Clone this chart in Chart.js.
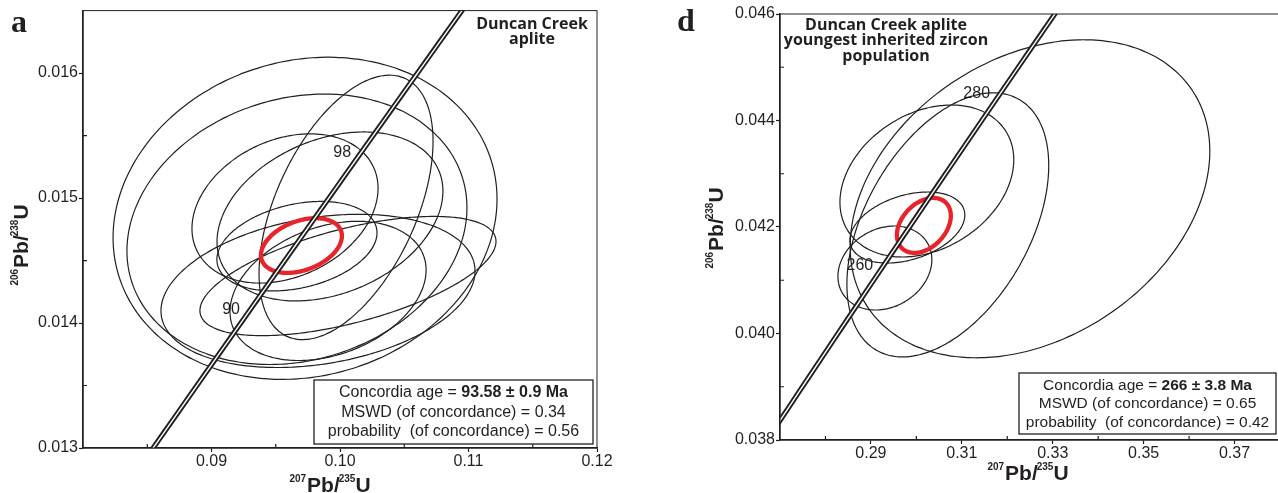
<!DOCTYPE html>
<html>
<head>
<title>Duncan Creek aplite - concordia diagrams</title>
<script src="https://cdn.jsdelivr.net/npm/chart.js"></script>
<style>
  html, body { margin: 0; padding: 0; background: #fff; overflow: hidden; }
  #wrapA { position: absolute; left: 0; top: 0; width: 640px; height: 493px; }
  #wrapD { position: absolute; left: 640px; top: 0; width: 642px; height: 493px; }
</style>
</head>
<body>
<div id="wrapA"><canvas id="chartA"></canvas></div>
<div id="wrapD"><canvas id="chartD"></canvas></div>
<script>
// decay constants (1/yr)
const L238 = 1.55125e-10;
const L235 = 9.8485e-10;

// ---- panel a : Duncan Creek aplite ----
const aAges = [82, 84, 86, 88, 90, 92, 94, 96, 98, 100, 102, 104, 106, 108];
const aAgeLabels = [90, 98];
const aXTicks = [0.09, 0.10, 0.11, 0.12];
const aXTickLabels = ["0.09", "0.10", "0.11", "0.12"];
const aXMinor = [0.085, 0.095, 0.105, 0.115];
const aYTicks = [0.013, 0.014, 0.015, 0.016];
const aYTickLabels = ["0.013", "0.014", "0.015", "0.016"];
const aYMinor = [0.0135, 0.0145, 0.0155];
// error ellipses: 207Pb/235U centre, 206Pb/238U centre, half width, half height, rho
const aCx  = [0.09728, 0.09665, 0.10047, 0.09572, 0.09922, 0.09829, 0.10062, 0.09665, 0.09907];
const aCy  = [0.014838, 0.014750, 0.014925, 0.014917, 0.014853, 0.014257, 0.014376, 0.014615, 0.014257];
const aSx  = [0.01494, 0.01323, 0.00677, 0.00724, 0.00879, 0.01222, 0.01152, 0.00623, 0.00763];
const aSy  = [0.001289, 0.001082, 0.001058, 0.000597, 0.000676, 0.000613, 0.000477, 0.000358, 0.000557];
const aRho = [0.12, 0.16, 0.5, 0.27, 0.3, 0.26, 0.58, 0.3, 0.3];
const aMean = [0.0970, 0.01462, 0.00315, 0.000219, 0.35];
const aTitle = ["Duncan Creek", "aplite"];
const aStats = ["93.58 ± 0.9 Ma", "0.34", "0.56"];

// ---- panel d : youngest inherited zircon population ----
const dAges = [238, 242, 246, 250, 254, 258, 262, 266, 270, 274, 278, 282, 286, 290, 294];
const dAgeLabels = [260, 280];
const dXTicks = [0.29, 0.31, 0.33, 0.35, 0.37];
const dXTickLabels = ["0.29", "0.31", "0.33", "0.35", "0.37"];
const dXMinor = [0.28, 0.30, 0.32, 0.34, 0.36];
const dYTicks = [0.038, 0.040, 0.042, 0.044, 0.046];
const dYTickLabels = ["0.038", "0.040", "0.042", "0.044", "0.046"];
const dYMinor = [0.039, 0.041, 0.043, 0.045];
const dCx  = [0.3250, 0.30692, 0.30231, 0.29802, 0.29308];
const dCy  = [0.04253, 0.04204, 0.042864, 0.04199, 0.04123];
const dSx  = [0.03956, 0.0222, 0.01912, 0.01264, 0.01033];
const dSy  = [0.002986, 0.00248, 0.001427, 0.000667, 0.000789];
const dRho = [0.3, 0.45, 0.28, 0.35, 0.2];
const dMean = [0.30165, 0.04203, 0.00593, 0.000516, 0.35];
const dTitle = ["Duncan Creek aplite", "youngest inherited zircon", "population"];
const dStats = ["266 ± 3.8 Ma", "0.65", "0.42"];

const ink = "#231f20";
const red = "#e8232a";
const sans = "'Liberation Sans', Arial, sans-serif";

function concordia(ages) {
  return ages.map(t => ({ x: Math.exp(L235 * t * 1e6) - 1, y: Math.exp(L238 * t * 1e6) - 1 }));
}

function ellipse(cx, cy, sx, sy, rho) {
  const pts = [];
  const k = Math.sqrt(1 - rho * rho);
  for (let i = 0; i <= 160; i++) {
    const t = i / 160 * 2 * Math.PI;
    pts.push({ x: cx + sx * Math.cos(t), y: cy + sy * (rho * Math.cos(t) + k * Math.sin(t)) });
  }
  return pts;
}

// draw a run of text pieces [text, font, dy, extra advance]
function drawRich(ctx, parts, x, y, align) {
  let w = 0;
  parts.forEach(p => { ctx.font = p[1]; w += ctx.measureText(p[0]).width + (p[3] || 0); });
  let cx = align === "center" ? x - w / 2 : x;
  ctx.textAlign = "left";
  parts.forEach(p => {
    ctx.font = p[1];
    ctx.fillText(p[0], cx, y + p[2]);
    cx += ctx.measureText(p[0]).width + (p[3] || 0);
  });
}

function axisTitle(a, b) {
  const big = "bold 21px " + sans, sup = "bold 10px " + sans;
  return [[a, sup, -10, 1], ["Pb/", big, 0, -1], [b, sup, -10, 0], ["U", big, 0, 0]];
}

function makePanel(id, o) {
  const conc = concordia(o.ages);
  // small tension keeps Chart.js off its per-pixel fast path, so ellipse ends stay smooth
  const base = { showLine: true, pointRadius: 0, fill: false, tension: 0.2 };
  const datasets = [
    Object.assign({ data: conc, borderColor: "#fff", borderWidth: 1.4, order: 0 }, base),
    Object.assign({ data: conc, borderColor: ink, borderWidth: 5.2, order: 1 }, base),
    Object.assign({ data: ellipse(...o.mean), borderColor: red, borderWidth: 4.3, order: 2 }, base)
  ];
  o.cx.forEach((c, i) => {
    datasets.push(Object.assign({
      data: ellipse(c, o.cy[i], o.sx[i], o.sy[i], o.rho[i]),
      borderColor: ink, borderWidth: 1.2, order: 3
    }, base));
  });

  const deco = {
    id: "deco",
    afterDraw(chart) {
      const ctx = chart.ctx, ca = chart.chartArea;
      const xs = chart.scales.x, ys = chart.scales.y;
      ctx.save();
      ctx.strokeStyle = ink;
      ctx.lineWidth = 1;
      ctx.strokeRect(ca.left, ca.top, ca.right - ca.left, ca.bottom - ca.top);
      // minor ticks, inward
      ctx.lineWidth = 1.2;
      ctx.beginPath();
      o.xMinor.forEach(v => {
        const px = xs.getPixelForValue(v);
        ctx.moveTo(px, ca.bottom); ctx.lineTo(px, ca.bottom - 4);
      });
      o.yMinor.forEach(v => {
        const py = ys.getPixelForValue(v);
        ctx.moveTo(ca.left, py); ctx.lineTo(ca.left + 4, py);
      });
      ctx.stroke();

      ctx.fillStyle = ink;
      // age labels on the concordia
      ctx.font = "16px " + sans;
      ctx.textAlign = "right";
      ctx.textBaseline = "middle";
      concordia(o.ageLabels).forEach((p, i) => {
        ctx.fillText(String(o.ageLabels[i]), xs.getPixelForValue(p.x) - 6, ys.getPixelForValue(p.y) - 6);
      });

      // panel letter
      ctx.textBaseline = "alphabetic";
      ctx.textAlign = "left";
      ctx.font = "bold 32px 'Liberation Serif', 'DejaVu Serif', serif";
      ctx.fillText(o.letter, o.letterPos[0], o.letterPos[1]);

      // sample title
      ctx.textAlign = "center";
      ctx.textBaseline = "middle";
      ctx.font = "bold 16px 'Open Sans', sans-serif";
      o.title.forEach((t, i) => ctx.fillText(t, o.titlePos[0], o.titlePos[1] + i * o.titleStep));

      // axis titles
      ctx.textBaseline = "alphabetic";
      drawRich(ctx, axisTitle("207", "235"), o.xTitlePos[0], o.xTitlePos[1], "center");
      ctx.save();
      ctx.translate(o.yTitlePos[0], o.yTitlePos[1]);
      ctx.rotate(-Math.PI / 2);
      drawRich(ctx, axisTitle("206", "238"), 0, 0, "center");
      ctx.restore();

      // statistics box
      const b = o.box;
      ctx.fillStyle = "#fff";
      ctx.fillRect(b[0], b[1], b[2], b[3]);
      ctx.strokeStyle = ink;
      ctx.lineWidth = 1.3;
      ctx.strokeRect(b[0], b[1], b[2], b[3]);
      ctx.fillStyle = ink;
      ctx.textBaseline = "middle";
      const f = o.boxFont + "px " + sans, fb = "bold " + o.boxFont + "px " + sans;
      const mid = b[0] + b[2] / 2;
      drawRich(ctx, [["Concordia age = ", f, 0], [o.stats[0], fb, 0]], mid, o.boxLines[0], "center");
      drawRich(ctx, [["MSWD (of concordance) = " + o.stats[1], f, 0]], mid, o.boxLines[1], "center");
      drawRich(ctx, [["probability  (of concordance) = " + o.stats[2], f, 0]], mid, o.boxLines[2], "center");
      ctx.restore();
    }
  };

  const tickFont = { family: sans, size: 16 };
  return new Chart(document.getElementById(id), {
    type: "scatter",
    data: { datasets: datasets },
    options: {
      responsive: true,
      maintainAspectRatio: false,
      animation: false,
      events: [],
      layout: { padding: o.padding },
      plugins: { legend: { display: false }, tooltip: { enabled: false } },
      scales: {
        x: {
          type: "linear", min: o.xMin, max: o.xMax,
          afterBuildTicks: s => { s.ticks = o.xTicks.map(v => ({ value: v })); },
          afterFit: s => { s.height = o.xAxisH; },
          ticks: {
            callback: v => o.xTickLabels[o.xTicks.indexOf(v)],
            color: ink, font: tickFont, padding: 0, maxRotation: 0, autoSkip: false
          },
          grid: { drawOnChartArea: false, tickLength: 4, tickColor: ink, tickWidth: 1.2 },
          border: { color: ink, width: 1.5 }
        },
        y: {
          type: "linear", min: o.yMin, max: o.yMax,
          afterBuildTicks: s => { s.ticks = o.yTicks.map(v => ({ value: v })); },
          afterFit: s => { s.width = o.yAxisW; },
          ticks: {
            callback: v => o.yTickLabels[o.yTicks.indexOf(v)],
            color: ink, font: tickFont, padding: 1, autoSkip: false
          },
          grid: { drawOnChartArea: false, tickLength: 4, tickColor: ink, tickWidth: 1.2 },
          border: { color: ink, width: 1.5 }
        }
      }
    },
    plugins: [deco]
  });
}

makePanel("chartA", {
  ages: aAges, ageLabels: aAgeLabels,
  cx: aCx, cy: aCy, sx: aSx, sy: aSy, rho: aRho, mean: aMean,
  xMin: 0.08, xMax: 0.12, yMin: 0.013, yMax: 0.0165,
  xTicks: aXTicks, xTickLabels: aXTickLabels, xMinor: aXMinor,
  yTicks: aYTicks, yTickLabels: aYTickLabels, yMinor: aYMinor,
  padding: { left: 0, top: 8, right: 43, bottom: 0 }, xAxisH: 45, yAxisW: 83,
  letter: "a", letterPos: [11, 32],
  title: aTitle, titlePos: [532, 24], titleStep: 15,
  xTitlePos: [330, 492], yTitlePos: [28, 245],
  stats: aStats, box: [314, 380, 279, 64], boxFont: 16, boxLines: [393, 413, 432]
});

makePanel("chartD", {
  ages: dAges, ageLabels: dAgeLabels,
  cx: dCx, cy: dCy, sx: dSx, sy: dSy, rho: dRho, mean: dMean,
  xMin: 0.27, xMax: 0.38, yMin: 0.038, yMax: 0.046,
  xTicks: dXTicks, xTickLabels: dXTickLabels, xMinor: dXMinor,
  yTicks: dYTicks, yTickLabels: dYTickLabels, yMinor: dYMinor,
  padding: { left: 0, top: 14, right: 2, bottom: 0 }, xAxisH: 53, yAxisW: 140,
  letter: "d", letterPos: [37, 31],
  title: dTitle, titlePos: [246, 25], titleStep: 15.5,
  xTitlePos: [388, 480], yTitlePos: [83, 228],
  stats: dStats, box: [379, 373, 257, 61], boxFont: 15.5, boxLines: [386, 404, 423]
});
</script>
</body>
</html>
